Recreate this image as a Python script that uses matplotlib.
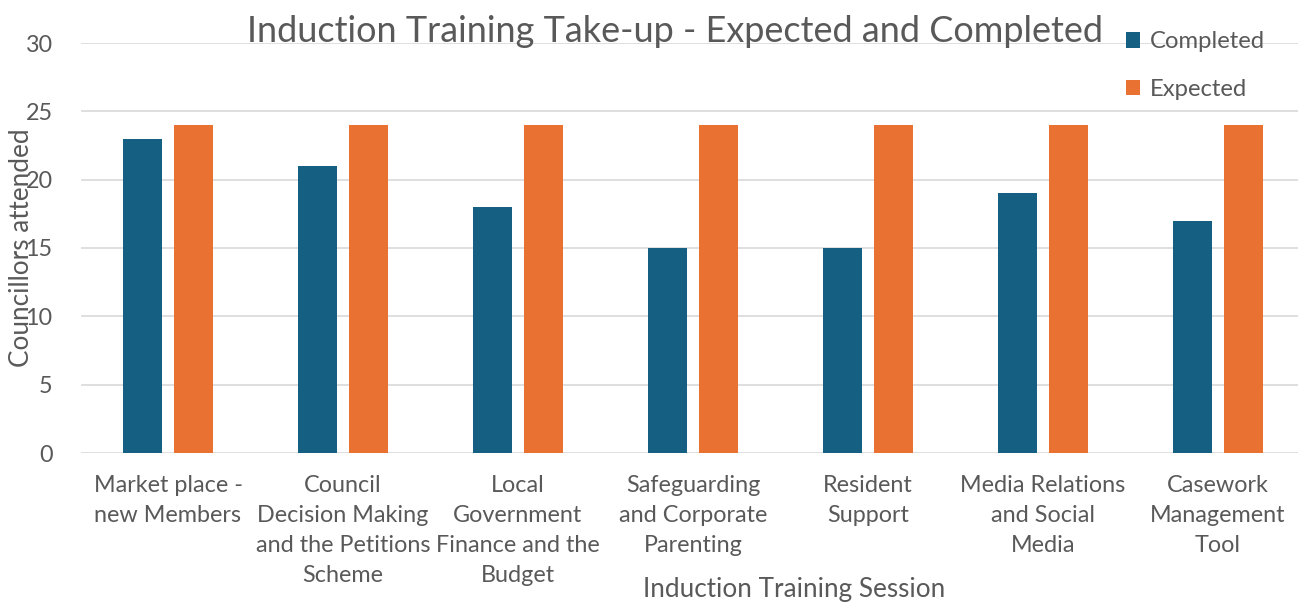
import matplotlib.pyplot as plt
import numpy as np

# Datos del gráfico
sesiones = ["Market place -\nnew Members",
            "Council\nDecision Making\nand the Petitions\nScheme",
            "Local\nGovernment\nFinance and the\nBudget",
            "Safeguarding\nand Corporate\nParenting",
            "Resident\nSupport",
            "Media Relations\nand Social\nMedia",
            "Casework\nManagement\nTool"]
completed = [23, 21, 18, 15, 15, 19, 17]
expected = [24, 24, 24, 24, 24, 24, 24]

azul = "#156082"
naranja = "#E97132"
gris = "#595959"

plt.rcParams["font.family"] = ["Lato", "DejaVu Sans"]

fig = plt.figure(figsize=(12.98, 6.03), dpi=100)
W, H = 1298, 603
# el área de dibujo va de x=80.5 a x=1305.5 px, y de 43 a 453 px
ax = fig.add_axes([80.5 / W, (H - 453) / H, 1225 / W, 410 / H])

x = np.arange(len(sesiones))
ancho = 0.223
ax.bar(x - 0.146, completed, ancho, color=azul, label="Completed", zorder=3)
ax.bar(x + 0.143, expected, ancho, color=naranja, label="Expected", zorder=3)

ax.set_xlim(-0.5, len(sesiones) - 0.5)
ax.set_ylim(0, 30)
ax.set_yticks(range(0, 31, 5))
ax.yaxis.grid(True, color="#D9D9D9", linewidth=1.2, zorder=0)
for s in ax.spines.values():
    s.set_visible(False)
ax.tick_params(axis="both", length=0, colors=gris, labelsize=16.8)
ax.tick_params(axis="y", pad=20)
ax.tick_params(axis="x", pad=16)
ax.set_xticks(x)
ax.set_xticklabels(sesiones, linespacing=1.52)

ax.set_ylabel("Councillors attended", fontsize=18.8, color=gris)
ax.yaxis.set_label_coords(-46.5 / 1225, 0.5)

fig.text(675 / W, 1 - 32 / H, "Induction Training Take-up - Expected and Completed",
         ha="center", va="center", fontsize=25.9, color=gris)
fig.text(794 / W, 1 - 590 / H, "Induction Training Session",
         ha="center", va="center", fontsize=18.8, color=gris)

leg = fig.legend(loc="upper left", bbox_to_anchor=(1104 / W, 1 - 10 / H),
                 frameon=False, fontsize=17.2, labelspacing=1.1,
                 handlelength=0.6, handleheight=0.6, handletextpad=0.4)
for t in leg.get_texts():
    t.set_color(gris)

plt.savefig("out.png", dpi=100)
